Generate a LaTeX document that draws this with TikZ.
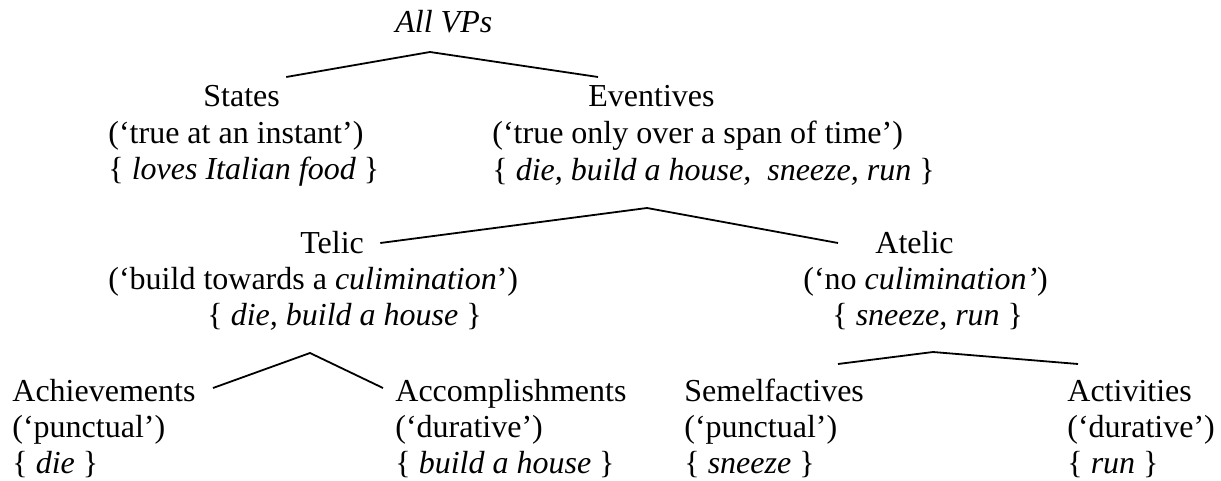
\documentclass[tikz,border=0pt]{standalone}
\usepackage{fontspec}
\setmainfont{Liberation Serif}

\tikzset{
  head/.style={inner sep=0pt, anchor=base west},
  gloss/.style={inner sep=0pt, anchor=base west, align=left},
  branch/.style={line width=0.9pt},
}

\begin{document}
\begin{tikzpicture}[x=0.5pt, y=-0.5pt, font=\fontsize{16pt}{18pt}\selectfont]

  \useasboundingbox (0,0) rectangle (1221,481);

  % top level (gloss nodes sit on the baseline of their last line)
  \node[head] (allvps) at (395,33) {\textit{All VPs}};
  \node[head] (states) at (203,107) {States};
  \node[gloss] (statesg) at (108,179) {(‘true at an instant’)\\\{ \textit{loves Italian food} \}};
  \node[head] (eventives) at (588,107) {Eventives};
  \node[gloss] (eventivesg) at (492,180) {(‘true only over a span of time’)\\\{ \textit{die, build a house,\ \ sneeze, run} \}};

  % eventives
  \node[head] (telic) at (300,253) {Telic};
  \node[gloss] (telicg) at (108,325) {(‘build towards a \textit{culimination}’)\\\hspace*{49.5pt}\{ \textit{die, build a house} \}};
  \node[head] (atelic) at (875,253) {Atelic};
  \node[gloss] (atelicg) at (803,325) {(‘no \textit{culimination’})\\\hspace*{14.5pt}\{ \textit{sneeze, run} \}};

  % leaves
  \node[gloss] (achieve) at (12,473) {Achievements\\(‘punctual’)\\\{ \textit{die} \}};
  \node[gloss] (accomp) at (395,473) {Accomplishments\\(‘durative’)\\\{ \textit{build a house} \}};
  \node[gloss] (semel) at (684,473) {Semelfactives\\(‘punctual’)\\\{ \textit{sneeze} \}};
  \node[gloss] (activ) at (1067,473) {Activities\\(‘durative’)\\\{ \textit{run} \}};

  \coordinate (vpsfork) at (430,52);
  \coordinate (evfork) at (647,208);
  \coordinate (telfork) at (310,353);
  \coordinate (atelfork) at (933,352);

  \draw[branch] ([shift={(6,-30)}]states.base east) -- (vpsfork) -- ([shift={(10,-30)}]eventives.base west);
  \draw[branch] ([shift={(16,-10)}]telic.base east) -- (evfork) -- ([shift={(-37,-10)}]atelic.base west);
  \draw[branch] ([shift={(201,-85)}]achieve.base west) -- (telfork) -- ([shift={(-12,-85)}]accomp.base west);
  \draw[branch] ([shift={(154,-109)}]semel.base west) -- (atelfork) -- ([shift={(11,-109)}]activ.base west);

\end{tikzpicture}
\end{document}
